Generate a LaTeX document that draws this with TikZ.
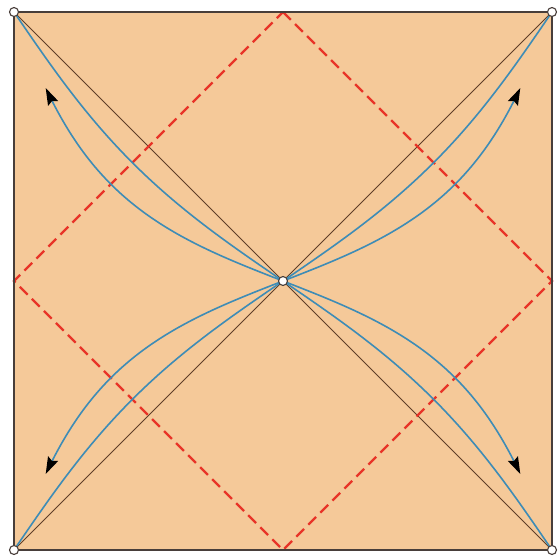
\documentclass[tikz,border=0pt]{standalone}
\usetikzlibrary{arrows.meta}
\definecolor{bgfill}{RGB}{245,201,153}
\definecolor{framecol}{RGB}{72,62,58}
\definecolor{diagcol}{RGB}{95,62,40}
\definecolor{redd}{RGB}{232,52,40}
\definecolor{bluec}{RGB}{62,140,182}
\tikzset{
  framebox/.style={draw=framecol, line width=2.2pt},
  diagline/.style={draw=diagcol, line width=0.8pt},
  reddash/.style={draw=redd, line width=2.2pt, dash pattern=on 11pt off 6pt},
  blueline/.style={draw=bluec, line width=1.6pt},
  dotnode/.style={circle, draw=framecol, fill=white, line width=1.1pt, minimum size=9pt, inner sep=0pt}
}
\begin{document}
\begin{tikzpicture}[x=1pt,y=-1pt]
\useasboundingbox (0,0) rectangle (558,558);
\fill[white] (0,0) rectangle (558,558);
\begin{scope}[shift={(283,281)}, x=269pt, y=269pt]
  \fill[bgfill] (-1,-1) rectangle (1,1);
  \coordinate (TL) at (-1,1);
  \coordinate (TR) at (1,1);
  \coordinate (BL) at (-1,-1);
  \coordinate (BR) at (1,-1);
  \coordinate (O) at (0,0);
  \coordinate (MT) at (0,1);
  \coordinate (MR) at (1,0);
  \coordinate (MB) at (0,-1);
  \coordinate (ML) at (-1,0);
  % diagonals
  \draw[diagline] (TL) -- (BR);
  \draw[diagline] (TR) -- (BL);
  % red dashed diamond
  \draw[reddash] (MT) -- (MR) -- (MB) -- (ML) -- cycle;
  % blue curves
  \foreach \sx/\sy in {1/1,-1/1,1/-1,-1/-1}{
    \draw[blueline] plot[domain=0:2, samples=80, variable=\t]
      ({\sx*(0.12*sin(90*\t) + \t)/2}, {\sy*(\t - 0.12*sin(90*\t))/2});
    \draw[blueline, -{Stealth[black, length=17pt, width=11pt, inset=2.5pt]}] plot[domain=0:1.6, samples=80, variable=\t]
      ({\sx*(0.28*sin(90*\t) + \t)/2}, {\sy*(\t - 0.28*sin(90*\t))/2});
  }
  % frame
  \draw[framebox] (TL) rectangle (BR);
  % points
  \node[dotnode] (nTL) at (TL) {};
  \node[dotnode] (nTR) at (TR) {};
  \node[dotnode] (nBL) at (BL) {};
  \node[dotnode] (nBR) at (BR) {};
  \node[dotnode] (nO) at (O) {};
\end{scope}
\end{tikzpicture}
\end{document}
